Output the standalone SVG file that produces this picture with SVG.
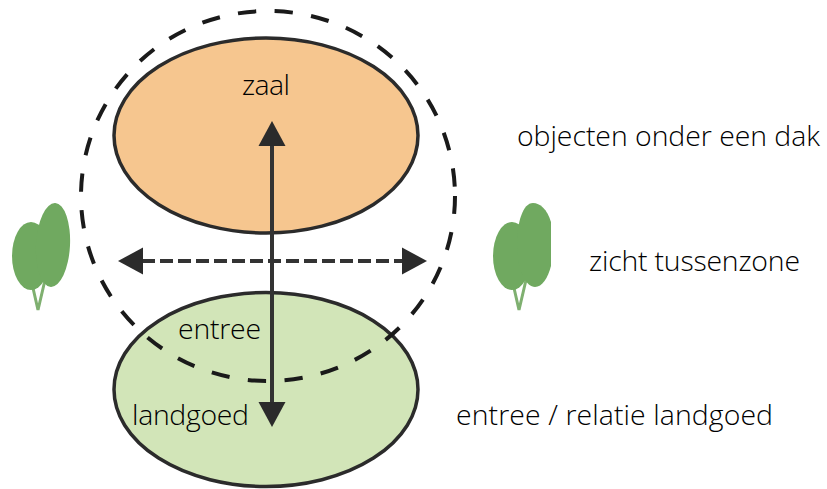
<svg xmlns="http://www.w3.org/2000/svg" width="827" height="489" viewBox="0 0 827 489">
<style>
.t{font-family:"Open Sans","Liberation Sans",sans-serif;font-size:28.4px;font-weight:300;fill:#000}
.e{stroke:#2b2b2b;stroke-width:3.5}
.l{fill:none;stroke:#333}
.leaf{fill:#70a960}
.stem{fill:none;stroke:#7fb070;stroke-width:3}
</style>
<defs>
<marker id="a" markerUnits="userSpaceOnUse" markerWidth="30" markerHeight="30" refX="2" refY="15" orient="auto-start-reverse"><path d="M1 1.500L26 15L1 28.500Z" fill="#2b2b2b"/></marker>
</defs>
<rect width="827" height="489" fill="#fff"/>
<g id="zaal"><ellipse class="e" cx="266" cy="135.500" rx="152" ry="97.500" fill="#f6c68f"/><text class="t" x="242" y="95" textLength="48">zaal</text></g>
<g id="landgoed"><ellipse class="e" cx="266" cy="389.500" rx="152" ry="97" fill="#d2e5b8"/><text class="t" x="132" y="425" textLength="117">landgoed</text></g>
<g id="zone"><ellipse cx="268" cy="196" rx="187" ry="185" fill="none" stroke="#1a1a1a" stroke-width="4" stroke-dasharray="18.300 18.500" stroke-dashoffset="-36.400"/><text class="t" x="178" y="339" textLength="83">entree</text></g>
<g id="connectors">
<path class="l" stroke-width="4" d="M272 145V403" marker-start="url(#a)" marker-end="url(#a)"/>
<path class="l" stroke-width="4" stroke-dasharray="13 5" d="M142 261H403" marker-start="url(#a)" marker-end="url(#a)"/>
</g>
<g id="boom-links"><path class="stem" d="M33 288L38 310L45 280"/><ellipse class="leaf" cx="31" cy="256" rx="19" ry="34"/><ellipse class="leaf" cx="53" cy="245" rx="17" ry="42" transform="rotate(3 53 245)"/></g>
<g id="boom-rechts"><path class="stem" d="M514 288L519 310L526 280"/><ellipse class="leaf" cx="512" cy="256" rx="19" ry="34"/><path class="leaf" d="M551 222C547 209 540 203 533 203C523 203 517 222 517 245C517 268 525 287 535 287C542 287 548 278 551 266Z"/></g>
<g id="labels">
<text class="t" x="517" y="146" textLength="303">objecten onder een dak</text>
<text class="t" x="589" y="271" textLength="211">zicht tussenzone</text>
<text class="t" x="456" y="425" textLength="317">entree / relatie landgoed</text>
</g>
</svg>
